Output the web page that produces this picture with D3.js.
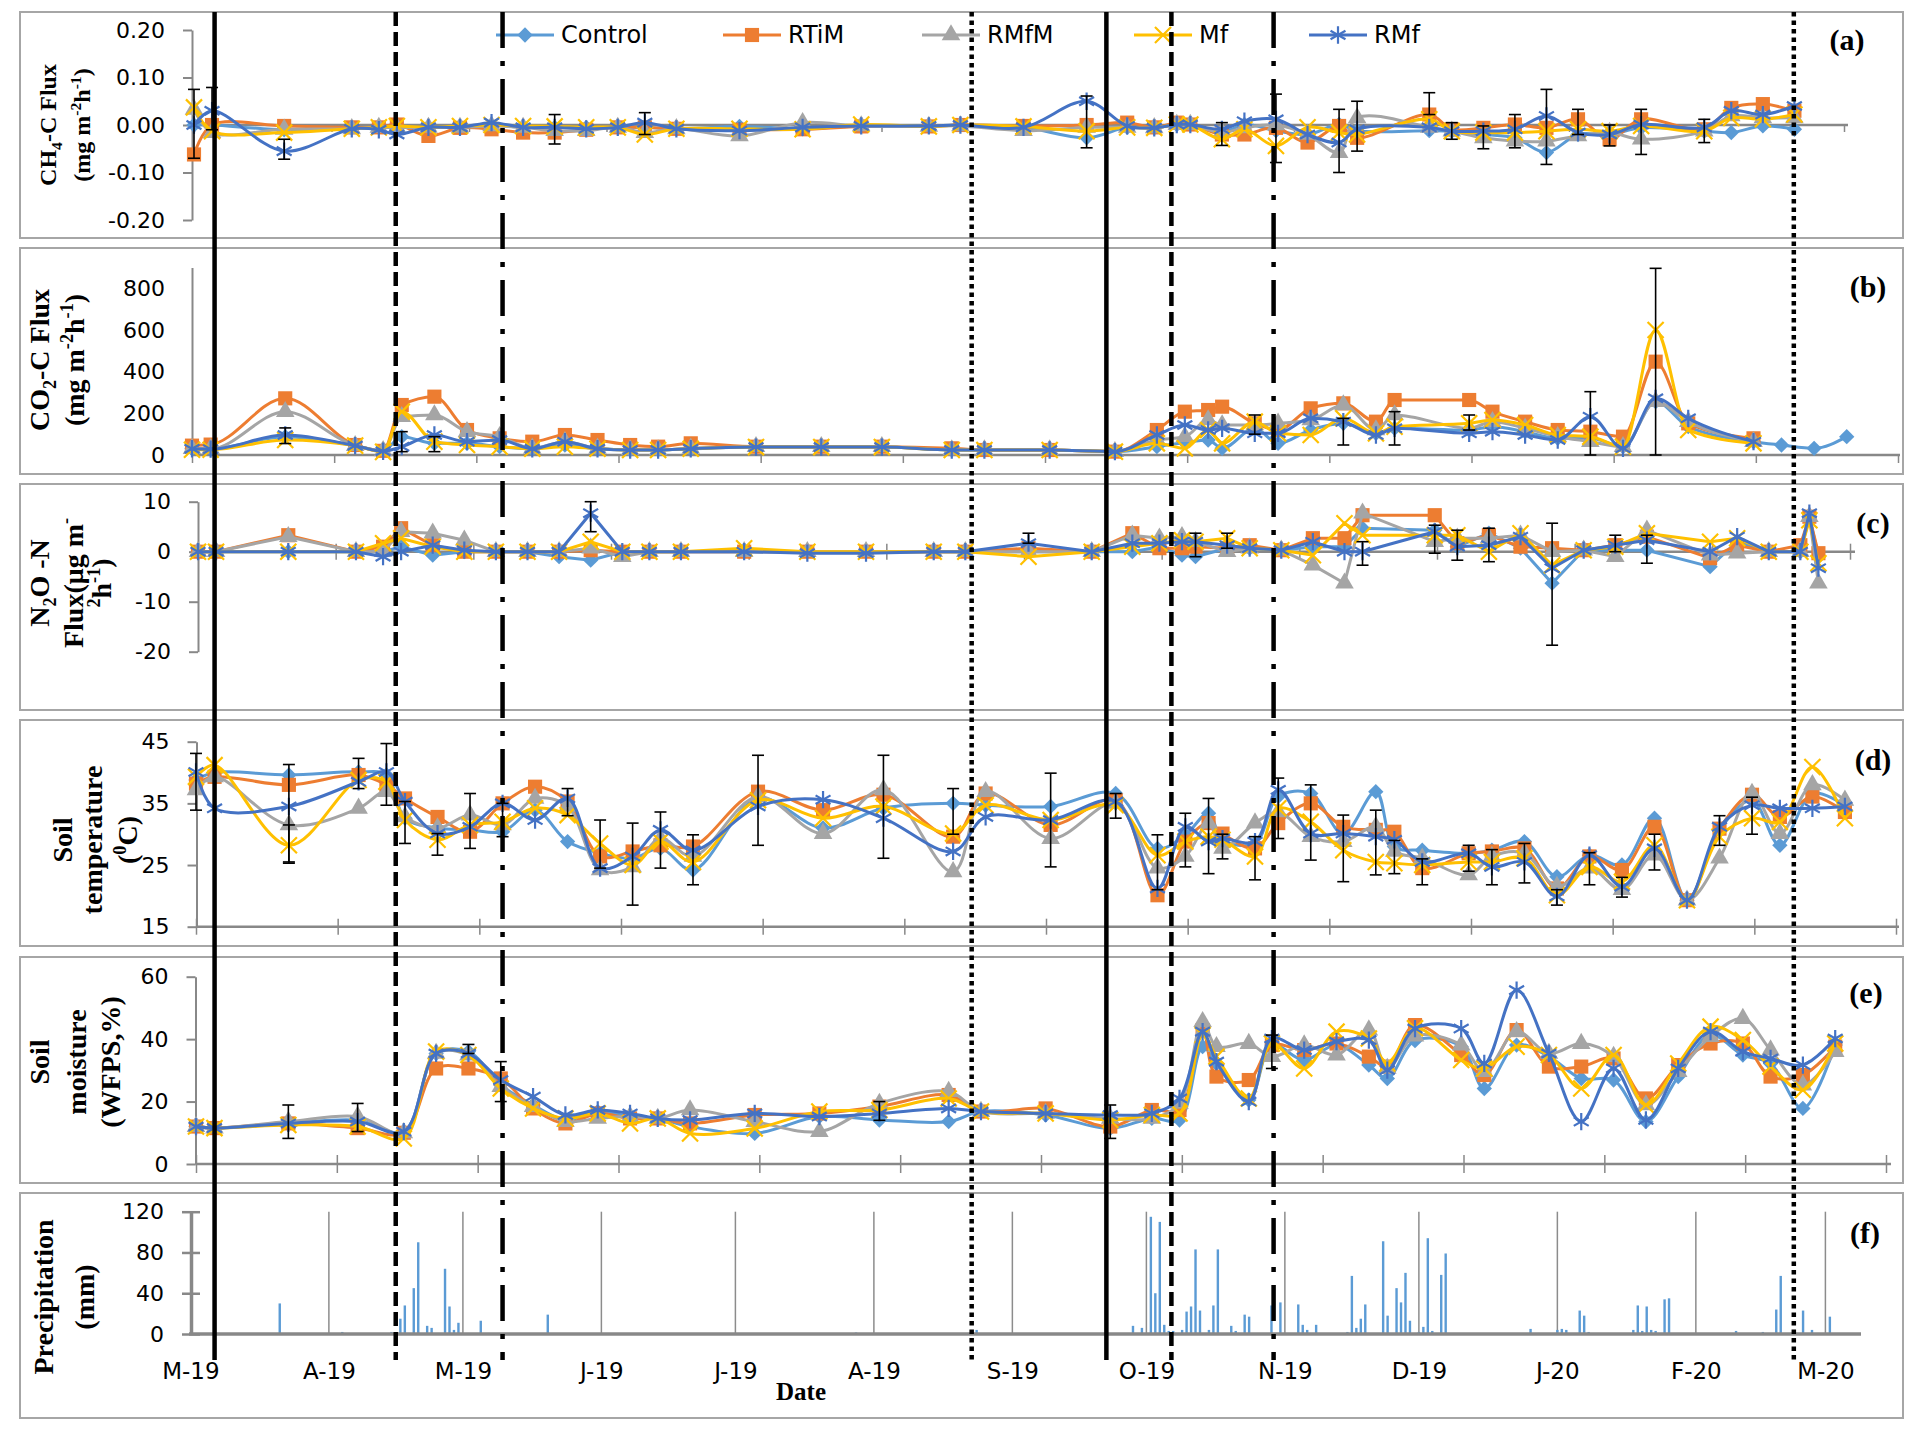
<!DOCTYPE html>
<html>
<head>
<meta charset="utf-8">
<script src="https://cdn.jsdelivr.net/npm/d3@7"></script>
<style>
  body { margin: 0; background: #fff; }
  svg { display: block; }
</style>
</head>
<body>
<script>
// sampling days shared by panels (a)-(e)
var sampleDates = [
  "2019-03-01","2019-03-05","2019-03-21","2019-04-05","2019-04-11","2019-04-15","2019-04-22","2019-04-29","2019-05-06","2019-05-13",
  "2019-05-20","2019-05-27","2019-06-03","2019-06-09","2019-06-16","2019-06-30","2019-07-14","2019-07-27","2019-08-11","2019-08-18",
  "2019-09-01","2019-09-15","2019-09-24","2019-09-30","2019-10-05","2019-10-08","2019-10-15","2019-10-20","2019-10-27","2019-11-03",
  "2019-11-10","2019-11-14","2019-11-20","2019-11-30","2019-12-05","2019-12-12","2019-12-19","2019-12-26","2020-01-02","2020-01-09",
  "2020-01-16","2020-01-23","2020-01-30","2020-02-05","2020-02-12","2020-02-19","2020-02-21","2020-02-23"]

var seriesNames = ["Control", "RTiM", "RMfM", "Mf", "RMf"]
var seriesColors = ["#5B9BD5", "#ED7D31", "#A5A5A5", "#FFC000", "#4472C4"]

// (a) CH4-C flux, mg m-2 h-1
var ch4Control = [0.000,0.000,-0.010,-0.006,-0.005,-0.005,-0.005,-0.005,0.000,-0.005,
  -0.005,-0.005,-0.005,-0.005,-0.008,-0.003,-0.008,-0.002,-0.002,0.000,
  -0.005,-0.027,-0.005,-0.006,0.001,0.001,-0.016,0.001,-0.012,-0.020,
  0.001,-0.012,null,-0.012,-0.013,-0.020,-0.027,-0.058,-0.020,-0.020,
  -0.006,null,-0.013,-0.016,-0.002,-0.009,null,null]
var ch4RTiM = [-0.062,0.000,-0.002,-0.005,-0.005,0.001,-0.023,-0.006,-0.009,-0.016,
  -0.016,-0.010,-0.005,-0.005,-0.008,-0.010,-0.009,-0.003,-0.003,0.000,
  -0.002,0.000,0.005,-0.005,0.005,0.001,-0.020,-0.020,-0.006,-0.037,
  -0.002,-0.027,null,0.022,-0.009,-0.006,0.001,-0.006,0.012,-0.030,
  0.012,null,-0.009,0.036,0.044,0.030,null,null]
var ch4RMfM = [0.033,-0.016,-0.009,-0.008,-0.005,-0.005,-0.005,-0.005,-0.002,-0.005,
  -0.012,-0.012,-0.005,-0.016,-0.008,-0.023,0.005,-0.002,-0.003,-0.002,
  -0.012,-0.005,-0.005,-0.006,0.001,0.001,-0.016,-0.006,0.000,-0.020,
  -0.058,0.015,null,-0.005,-0.013,-0.027,-0.034,-0.034,-0.023,-0.016,
  -0.030,null,-0.013,0.019,0.015,0.015,null,null]
var ch4Mf = [0.037,-0.013,-0.016,-0.008,-0.005,-0.002,-0.005,-0.002,0.000,-0.002,
  -0.003,-0.005,-0.005,-0.020,-0.008,-0.008,-0.009,0.001,-0.003,0.000,
  -0.003,-0.013,-0.005,-0.006,0.001,0.001,-0.030,-0.009,-0.044,-0.005,
  -0.016,-0.020,null,0.012,-0.013,-0.016,-0.016,-0.013,-0.009,-0.013,
  -0.002,null,-0.013,0.015,0.012,0.022,null,null]
var ch4RMf = [0.000,0.030,-0.055,-0.008,-0.010,-0.020,-0.005,-0.005,0.005,-0.005,
  -0.005,-0.008,-0.005,0.005,-0.008,-0.012,-0.005,-0.002,-0.002,0.000,
  -0.005,0.050,-0.002,-0.006,0.001,0.001,-0.009,0.008,0.012,-0.020,
  -0.037,-0.009,null,-0.005,-0.013,-0.013,-0.009,0.019,-0.016,-0.020,
  0.001,null,-0.005,0.030,0.022,0.040,null,null]
// error bars: [sample index, low, high]
var ch4Err = [[0,-0.07,0.075],[1,-0.01,0.079],[2,-0.072,-0.03],[10,-0.04,0.022],[13,-0.02,0.026],
  [21,-0.048,0.061],[26,-0.043,0.005],[28,-0.079,0.065],[30,-0.1,0.033],[31,-0.055,0.05],
  [33,0.022,0.068],[34,-0.03,0.005],[35,-0.05,-0.002],[36,-0.048,0.022],[37,-0.083,0.075],
  [38,-0.02,0.033],[39,-0.044,0],[40,-0.062,0.033],[42,-0.037,0.012]]

// (b) CO2-C flux, mg m-2 h-1
var co2Control = [30,30,88,45,20,88,56,56,40,30, 48,30,25,25,30,38,38,38,25,24,
  24,16,40,60,72,32,128,56,120,152, 104,128,null,120,136,112,80,80,40,256,
  136,null,64,48,32,88,null,null]
var co2RTiM = [45,50,272,48,20,240,280,120,80,64, 96,72,48,40,56,40,40,40,32,24,
  24,16,120,208,216,232,152,120,224,248, 160,264,null,264,208,160,120,112,88,448,
  152,null,80,null,null,null,null,null]
var co2RMfM = [30,30,208,45,20,184,192,112,88,32, 64,32,24,24,32,40,40,40,24,24,
  24,16,72,88,168,144,144,152,168,240, 120,192,null,128,160,128,88,64,40,256,
  160,null,64,null,null,null,null,null]
var co2Mf = [25,25,72,45,15,208,64,48,40,30, 40,30,24,24,30,38,38,38,24,24,
  24,16,56,32,120,56,160,104,96,176, 104,136,null,152,168,144,96,88,40,600,
  120,null,56,null,null,null,null,null]
var co2RMf = [30,28,96,45,18,40,96,64,72,30, 64,30,24,24,30,38,38,38,24,24,
  24,16,96,144,120,128,104,104,176,160, 96,128,null,104,112,96,72,184,32,272,
  176,null,64,null,null,null,null,null]
var co2Err = [[2,55,130],[5,16,112],[6,16,88],[26,100,192],[29,48,176],[31,48,208],[33,120,192],[37,0,304],[39,0,896]]

// (c) N2O-N flux, ug m-2 h-1
var n2oControl = [0,0,0,0,0,1,-0.7,0,0,0, -1,-1.7,0,0,0,0,0,0,0,0,
  0,0,0,1,-0.7,-1,0.7,0.7,0.3,1, 1,4.7,null,4.3,1,3.7,0.7,-6.3,0.3,0.3,
  0.3,null,-3,2,0,0,7,-1]
var n2oRTiM = [0,0,3.3,0,1,4.7,1.3,0,0,0, 0,0.3,0,0,0,0,0,0,0,0,
  0.7,0,3.7,0.7,0.7,1,0.7,1.3,0.3,2.7, 2.7,7.3,null,7.3,1.7,3.3,1,0.7,0.3,1.3,
  3,null,-1.3,1.3,0,1.3,7,-0.3]
var n2oRMfM = [0,0,3,0,0,4,3.7,2.3,0,0, 0,0.7,-1,0,0,0,0,0,0,0,
  0,0,3.3,2.7,3,2,0,0.7,0.3,-2.7, -6.3,7.7,null,2,2.7,2.7,3.3,0,0.3,-1,
  4.3,null,-0.7,-0.3,0,0,7,-6.3]
var n2oMf = [0,0,0,0,1.7,2.7,1,0,0,0, 0,2,0,0,0,0.7,0,0,0,0,
  -1,0,1,1.7,2.3,2,2.7,0.7,0.3,-0.7, 5.7,3.3,null,3.3,3.3,0,3.7,-2.7,0.3,1,
  3.7,null,2,2.7,0,0,6.3,-2.3]
var n2oRMf = [0,0,0,0,-1,0,1.3,0.3,0,0, 0,7.7,0,0,0,0,-0.3,-0.3,0,0,
  1.7,0,1.7,1.7,2,2,1.3,0.7,0.3,2, 0,0,null,4,1,1.3,3,-3.3,0.3,1.3,
  2.3,null,0,3,0,0,7.7,-3.3]
var n2oErr = [[11,4,10],[20,1.7,3.7],[25,-1,3.7],[26,0.7,3.7],[31,-2.7,2],[33,-0.3,5.3],
  [34,-1.7,4.3],[35,-2,4.7],[37,-18.7,5.7],[39,0,3.3],[40,-2.3,3.3]]

// (d) soil temperature, degC
var tempControl = [38.8,40,39.6,40.1,39.6,32.6,31,30.7,30.4,33.9, 28.8,26.9,26.1,27.7,24.2,35.8,31,34.2,35,34.7,
  34.5,36.6,27.7,29.9,33.4,29.1,28.5,36.1,36.6,30.1, 36.9,28,27.4,26.9,27.4,28.8,23.1,26.6,25,32.6,
  19.3,30.7,35.5,28.2,36.6,34.7,null,null]
var tempRTiM = [38.2,39.3,38,39.6,38,35.8,32.8,30.4,35,37.7, 35.3,26.4,27.2,28.2,28,36.9,33.9,36.4,29.6,36.6,
  31.5,35.5,20.1,28.8,31.8,30.1,27.7,31.8,35,31.2, 30.7,30.4,24.5,26.9,27.2,27.7,21.2,26.4,24.2,31.2,
  19.3,30.9,36.4,32.8,36.1,33.6,null,null]
var tempRMfM = [37.2,39.3,31.5,34.2,36.9,32.8,31,33.1,31.5,35.8, 34.5,24.2,24.7,29.3,26.4,36.1,30.1,37.2,23.9,36.9,
  29.3,35,24.5,26.4,31.8,27.7,31.8,33.6,29.6,28.8, 31.2,27.2,26.1,23.4,26.4,26.9,21.5,24.5,21,26.6,
  19.3,26.1,36.6,30.1,38,35.5,null,null]
var tempMf = [39.3,41.2,28.2,38.8,38.5,32.3,29.1,31.5,32,34.2, 33.1,28.5,25,28.8,25.5,35.5,32.6,34.5,30.1,34.7,
  32.3,34.7,26.6,28.8,29.6,29.1,26.4,34.2,32,27.4, 25.5,25.3,25,25.5,25.5,26.1,20.1,24.7,22.3,28.2,
  19.3,29.6,32.6,32,40.9,32.6,null,null]
var tempRMf = [40.1,34.2,34.5,38.5,40.1,35.3,30.1,31.2,35,32.3, 35.8,24.5,26.4,30.7,27.4,34.5,35.6,32.6,27.2,32.8,
  32.3,35.3,21.2,31.2,28.8,29.3,28.8,37.2,30.1,30.1, 29.6,29.1,25.5,26.9,24.7,25.5,19.9,26.6,21.5,27.7,
  19.3,31.2,34.7,34.2,34.2,34.5,null,null]
var tempErr = [[0,33.9,43.1],[2,25.5,41.3],[2,25.3,31.5],[3,37.4,42.3],[4,34.7,44.7],[5,28.5,35.3],[6,26.6,30.1],
  [7,27.7,36.6],[8,29.6,35],[10,33,37.4],[11,24.5,32.3],[12,18.5,31.8],[13,24.5,33.6],[14,21.8,29.9],
  [15,28.2,42.8],[17,26.1,42.8],[18,30,37.4],[20,24.7,39.9],[21,32.6,36.6],[22,21,29.9],[23,24.7,33.4],
  [24,23.6,35.8],[25,26,30],[26,22.6,29.6],[27,29.3,39.1],[28,25.8,38],[29,22.3,33.1],[30,23.4,33.9],
  [31,23.6,29],[32,21.8,26],[33,24,28.2],[34,21.8,27.5],[35,22.1,28.5],[36,18.5,21],[37,21.8,27],
  [38,19.8,23],[39,24.2,30],[41,28.2,33],[42,30,36]]

// (e) soil moisture, WFPS %
var moistControl = [12,11.5,13,14,null,10.4,35.4,36,25.3,18.9, 14.1,16.8,15.2,14.6,12,9.8,15.2,14.1,13.6,16.8,
  15.7,11.4,14.6,14.1,37.6,32.2,20.5,38.1,33.3,38.1, 31.7,27.4,39.5,37.6,24.2,38.1,34.4,27.4,26.9,13.6,
  28,41.3,34.9,32.2,17.8,38.1,null,null]
var moistRTiM = [12,11.5,13,11.5,null,10,30.6,30.6,27.4,17.8, 13,16.2,14.6,14.6,13,15.7,16.2,18.4,22.1,16.8,
  17.8,12,17.3,17.3,42.9,28,26.9,38.1,36.5,38.6, 34.4,31.2,44.5,34.9,28.5,42.9,31.2,31.2,33.8,21,
  31.7,38.6,38.6,28,28.5,37.6,null,null]
var moistRMfM = [12,11.5,13.6,15.2,null,10,35.4,34.9,24.8,18.4, 13.6,14.6,15.2,14.6,17.3,13.6,10.4,19.4,23.2,16.8,
  16.2,14.6,14.6,19.4,45.6,37.6,38.6,34.4,38.1,34.9, 42.9,30.6,41,38.1,29.6,42.4,35.4,38.6,34.4,18.9,
  29.6,40.8,46.6,36.5,25.3,36,null,null]
var moistMf = [12,11.5,12.5,12,null,8.2,36,34.9,24.2,17.8, 14.6,16.2,13,14.6,9.8,11.4,16.8,17.3,21,16.8,
  16.2,14.1,15.7,16.2,41.3,34.4,21,38.6,30.6,42.4, 40.2,32.2,43.5,33.3,30.6,37.6,34.9,24.2,34.9,18.9,
  32.2,44,39.7,31.2,23.7,38.6,null,null]
var moistRMf = [12,11.5,13,13.6,null,10.4,35.4,35.4,26.9,21.6, 15.7,17.3,16.2,14.6,14.1,16.2,15.2,16.2,17.8,16.8,
  16.2,15.7,16.2,21,42.4,32.8,20,40.2,36.5,39.2, 39.7,30.1,43.4,43.4,32.2,55.7,35.4,13.6,30.6,14.1,
  30.6,42.4,36,33.8,31.7,40.2,null,null]
var moistErr = [[2,8.2,18.9],[3,10.4,19.4],[7,35.4,38.3],[8,20,32.8],[17,14,20],[21,8.2,18.9],[27,30.6,41.3]]

// (f) daily precipitation, mm
var precipDates = ["2019-03-21","2019-04-04","2019-04-15","2019-04-17","2019-04-18","2019-04-20","2019-04-21","2019-04-23","2019-04-24","2019-04-27",
  "2019-04-28","2019-04-29","2019-04-30","2019-05-05","2019-05-20","2019-07-28","2019-08-24","2019-09-28","2019-09-29","2019-09-30",
  "2019-10-02","2019-10-03","2019-10-04","2019-10-05","2019-10-06","2019-10-07","2019-10-09","2019-10-10","2019-10-11","2019-10-12",
  "2019-10-13","2019-10-15","2019-10-16","2019-10-17","2019-10-20","2019-10-21","2019-10-23","2019-10-24","2019-10-29","2019-10-31",
  "2019-11-04","2019-11-05","2019-11-06","2019-11-08","2019-11-15","2019-11-16","2019-11-17","2019-11-18","2019-11-19","2019-11-23",
  "2019-11-24","2019-11-26","2019-11-27","2019-11-28","2019-11-29","2019-12-01","2019-12-02","2019-12-03","2019-12-04","2019-12-06",
  "2019-12-07","2019-12-26","2020-01-01","2020-01-02","2020-01-03","2020-01-06","2020-01-07","2020-01-08","2020-01-18","2020-01-19",
  "2020-01-20","2020-01-21","2020-01-22","2020-01-23","2020-01-25","2020-01-26","2020-02-10","2020-02-16","2020-02-19","2020-02-20",
  "2020-02-25","2020-02-27","2020-03-02"]
var precipMm = [30,2,2,15,28,45,90,8,6,64, 27,4,11,13,19,1.5,4,8,1,6,
  115,40,110,9,3,3,4,22,27,83, 23,4,28,83,8,3,19,17,28,31,
  29,9,4,9,2,57,6,15,29,91, 18,45,31,60,13,2,7,94,3,58,
  79,5,4,5,4,23,18,2,4,28, 3,27,4,3,34,35,3,2,24,57,
  23,4,17]

var ch4Ticks = [-0.2, -0.1, 0, 0.1, 0.2]
var co2Ticks = [0, 200, 400, 600, 800]
var n2oTicks = [-20, -10, 0, 10]
var tempTicks = [15, 25, 35, 45]
var moistTicks = [0, 20, 40, 60]
var precipTicks = [0, 40, 80, 120]
var monthLabels = ["M-19","A-19","M-19","J-19","J-19","A-19","S-19","O-19","N-19","D-19","J-20","F-20","M-20"]

// management events drawn across all panels
var eventDates = ["2019-03-05","2019-04-13","2019-05-06","2019-08-15","2019-09-13","2019-09-27","2019-10-19","2020-02-08"]
var eventStyles = ["solid","dashed","dashdot","dotted","solid","dashed","dashdot","dotted"]

var W = 1921, H = 1433
var parse = d3.timeParse("%Y-%m-%d")
var tStart = parse("2019-03-01"), tEnd = parse("2020-03-01")
var dates = sampleDates.map(parse)

var axisGray = "#888888"
var boxGray = "#a6a6a6"
var sansFont = "'DejaVu Sans', Verdana, sans-serif"
var serifFont = "'Liberation Serif', 'Times New Roman', serif"

var symbols = [d3.symbolDiamond2, d3.symbolSquare, d3.symbolTriangle, d3.symbolTimes, d3.symbolAsterisk]
var symSize = [150, 200, 150, 170, 210]
var filled = [true, true, true, false, false]

var svg = d3.select("body").append("svg").attr("width", W).attr("height", H)
svg.append("rect").attr("width", W).attr("height", H).attr("fill", "#fff")

// 12 equal steps along each panel's own date axis
var panelTicks = d3.range(13).map(function (k) { return new Date(+tStart + k * (tEnd - tStart) / 12) })

function richText (g, x, y, parts, size) {
  var t = g.append("text")
    .attr("transform", "translate(" + x + "," + y + ") rotate(-90)")
    .attr("text-anchor", "middle")
    .attr("font-family", serifFont)
    .attr("font-weight", "bold")
    .attr("font-size", size)
    .attr("fill", "#000")
  var shift = 0
  parts.forEach(function (p) {
    var target = p[1] === "sub" ? size * 0.25 : (p[1] === "sup" ? -size * 0.38 : 0)
    t.append("tspan")
      .attr("dy", target - shift)
      .attr("font-size", p[1] === "n" ? size : size * 0.65)
      .text(p[0])
    shift = target
  })
}

function marker (sel, s) {
  return sel
    .attr("d", d3.symbol(symbols[s], symSize[s]))
    .attr("fill", filled[s] ? seriesColors[s] : "none")
    .attr("stroke", seriesColors[s])
    .attr("stroke-width", filled[s] ? 0 : 2.2)
}

var unitParts = [["(mg m", "n"], ["-2", "sup"], ["h", "n"], ["-1", "sup"], [")", "n"]]

var panels = [
  { id: "(a)", top: 12, series: [ch4Control, ch4RTiM, ch4RMfM, ch4Mf, ch4RMf], err: ch4Err,
    axisX: 192, x0: 194, x12: 1844, xEnd: 1848, domain: [-0.2, 0.2], yRange: [220, 30], ticks: ch4Ticks,
    fmt: function (d) { return d.toFixed(2) }, base: 0, yTick: 9, xTick: [0, 7], curve: d3.curveCatmullRom.alpha(0.5),
    labelX: 1847, labelY: 50,
    title: [[["CH", "n"], ["4", "sub"], ["-C Flux", "n"]], unitParts], titleX: [56, 90], titleY: 125, titleSize: 24 },
  { id: "(b)", top: 248, series: [co2Control, co2RTiM, co2RMfM, co2Mf, co2RMf], err: co2Err,
    axisX: 192, x0: 192, x12: 1898, xEnd: 1900, domain: [0, 900], yRange: [455, 267.5], ticks: co2Ticks,
    fmt: function (d) { return String(d) }, base: 0, yTick: 0, xTick: [0, 8], curve: d3.curveMonotoneX,
    labelX: 1868, labelY: 297,
    title: [[["CO", "n"], ["2", "sub"], ["-C Flux", "n"]], unitParts], titleX: [49, 84], titleY: 360, titleSize: 28 },
  { id: "(c)", top: 484, series: [n2oControl, n2oRTiM, n2oRMfM, n2oMf, n2oRMf], err: n2oErr,
    axisX: 198, x0: 198, x12: 1850, xEnd: 1855, domain: [-20, 10], yRange: [651.7, 501.7], ticks: n2oTicks,
    fmt: function (d) { return String(d) }, base: 0, yTick: 9, xTick: [-8, 8], curve: d3.curveLinear,
    labelX: 1873, labelY: 533,
    title: [[["N", "n"], ["2", "sub"], ["O -N", "n"]], [["Flux(\u03bcg m", "n"], ["-", "sup"]], [["2", "sup"], ["h", "n"], ["-1", "sup"], [")", "n"]]],
    titleX: [49, 83, 111], titleY: 583, titleSize: 28 },
  { id: "(d)", top: 720, series: [tempControl, tempRTiM, tempRMfM, tempMf, tempRMf], err: tempErr,
    axisX: 196.5, x0: 196, x12: 1896, xEnd: 1899, domain: [15, 45], yRange: [926.7, 741.7], ticks: tempTicks,
    fmt: function (d) { return String(d) }, base: 15, yTick: 9, xTick: [-8, 8], curve: d3.curveCatmullRom.alpha(0.5),
    labelX: 1873, labelY: 770,
    title: [[["Soil", "n"]], [["temperature", "n"]], [["(", "n"], ["0", "sup"], ["C)", "n"]]],
    titleX: [72, 102, 137], titleY: 840, titleSize: 28 },
  { id: "(e)", top: 957, series: [moistControl, moistRTiM, moistRMfM, moistMf, moistRMf], err: moistErr,
    axisX: 195.5, x0: 196, x12: 1886, xEnd: 1891, domain: [0, 60], yRange: [1164, 976.7], ticks: moistTicks,
    fmt: function (d) { return String(d) }, base: 0, yTick: 9, xTick: [-9, 9], curve: d3.curveCatmullRom.alpha(0.5),
    labelX: 1866, labelY: 1003,
    title: [[["Soil", "n"]], [["moisture", "n"]], [["(WFPS,%)", "n"]]],
    titleX: [49, 86, 120], titleY: 1062, titleSize: 28 }
]

function drawPanel (p) {
  var g = svg.append("g")
  g.append("rect")
    .attr("x", 20).attr("y", p.top).attr("width", 1883).attr("height", 226)
    .attr("fill", "none").attr("stroke", boxGray).attr("stroke-width", 2)

  var x = d3.scaleTime().domain([tStart, tEnd]).range([p.x0, p.x12])
  var y = d3.scaleLinear().domain(p.domain).range(p.yRange)

  var ya = g.append("g")
    .attr("transform", "translate(" + p.axisX + ",0)")
    .call(d3.axisLeft(y).tickValues(p.ticks).tickSize(p.yTick).tickSizeOuter(0)
      .tickPadding(27 - p.yTick).tickFormat(p.fmt))
  ya.select(".domain").attr("stroke", axisGray).attr("stroke-width", 2)
  ya.selectAll(".tick line").attr("stroke", axisGray).attr("stroke-width", 2)
  ya.selectAll(".tick text")
    .attr("font-family", sansFont).attr("font-size", 22).attr("fill", "#000")

  var yb = y(p.base)
  var xa = g.append("g")
    .attr("transform", "translate(0," + yb + ")")
    .call(d3.axisBottom(x).tickValues(panelTicks).tickFormat(""))
  xa.select(".domain").remove()
  xa.selectAll(".tick line")
    .attr("y1", p.xTick[0]).attr("y2", p.xTick[1])
    .attr("stroke", axisGray).attr("stroke-width", 1.5)
  g.append("line")
    .attr("x1", p.axisX).attr("x2", p.xEnd).attr("y1", yb).attr("y2", yb)
    .attr("stroke", axisGray).attr("stroke-width", 2.5)

  var line = d3.line()
    .x(function (d) { return x(d.date) })
    .y(function (d) { return y(d.v) })
    .curve(p.curve)

  p.series.forEach(function (vals, s) {
    var pts = vals.map(function (v, i) { return { date: dates[i], v: v } })
      .filter(function (d) { return d.v !== null })
    g.append("path").datum(pts)
      .attr("d", line)
      .attr("fill", "none")
      .attr("stroke", seriesColors[s])
      .attr("stroke-width", 3)
    g.selectAll(null).data(pts).enter().append("path")
      .attr("transform", function (d) { return "translate(" + x(d.date) + "," + y(d.v) + ")" })
      .call(marker, s)
  })

  // error bars
  var eb = g.append("g").attr("stroke", "#000").attr("stroke-width", 1.6)
  p.err.forEach(function (e) {
    var xx = x(dates[e[0]])
    eb.append("line").attr("x1", xx).attr("x2", xx).attr("y1", y(e[1])).attr("y2", y(e[2]))
    eb.append("line").attr("x1", xx - 6).attr("x2", xx + 6).attr("y1", y(e[1])).attr("y2", y(e[1]))
    eb.append("line").attr("x1", xx - 6).attr("x2", xx + 6).attr("y1", y(e[2])).attr("y2", y(e[2]))
  })

  g.append("text")
    .attr("x", p.labelX).attr("y", p.labelY)
    .attr("text-anchor", "middle")
    .attr("font-family", serifFont).attr("font-weight", "bold").attr("font-size", 30)
    .text(p.id)

  p.title.forEach(function (parts, k) {
    richText(g, p.titleX[k], p.titleY, parts, p.titleSize)
  })
}

panels.forEach(drawPanel)

// (f) precipitation
var gf = svg.append("g")
gf.append("rect")
  .attr("x", 20).attr("y", 1193).attr("width", 1883).attr("height", 225)
  .attr("fill", "none").attr("stroke", boxGray).attr("stroke-width", 2)

var xf = d3.scaleTime().domain([tStart, tEnd]).range([190.4, 1825.4])
var yf = d3.scaleLinear().domain([0, 120]).range([1334, 1211.7])
var months = d3.timeMonth.range(tStart, d3.timeDay.offset(tEnd, 1))

gf.selectAll(".grid").data(months.slice(1)).enter().append("line")
  .attr("x1", function (d) { return xf(d) }).attr("x2", function (d) { return xf(d) })
  .attr("y1", yf(0)).attr("y2", yf(120))
  .attr("stroke", "#8c8c8c").attr("stroke-width", 1.5)

gf.selectAll(".bar").data(precipDates).enter().append("rect")
  .attr("x", function (d) { return xf(parse(d)) - 1.2 })
  .attr("width", 2.4)
  .attr("y", function (d, i) { return yf(precipMm[i]) })
  .attr("height", function (d, i) { return yf(0) - yf(precipMm[i]) })
  .attr("fill", "#5B9BD5")

var yfa = gf.append("g")
  .attr("transform", "translate(191,0)")
  .call(d3.axisLeft(yf).tickValues(precipTicks).tickSize(9).tickSizeOuter(0).tickPadding(18)
    .tickFormat(function (d) { return String(d) }))
yfa.select(".domain").attr("stroke", axisGray).attr("stroke-width", 3.5)
yfa.selectAll(".tick line").attr("x1", 9).attr("stroke", axisGray).attr("stroke-width", 2.5)
yfa.selectAll(".tick text").attr("font-family", sansFont).attr("font-size", 22).attr("fill", "#000")

gf.append("line")
  .attr("x1", 189).attr("x2", 1861).attr("y1", yf(0)).attr("y2", yf(0))
  .attr("stroke", axisGray).attr("stroke-width", 3.5)

var xfa = gf.append("g")
  .attr("transform", "translate(0," + yf(0) + ")")
  .call(d3.axisBottom(xf).tickValues(months).tickSize(0).tickPadding(29)
    .tickFormat(function (d, i) { return monthLabels[i] }))
xfa.select(".domain").remove()
xfa.selectAll(".tick text").attr("font-family", sansFont).attr("font-size", 23).attr("fill", "#000")

gf.append("text")
  .attr("x", 801).attr("y", 1400)
  .attr("text-anchor", "middle")
  .attr("font-family", serifFont).attr("font-weight", "bold").attr("font-size", 25)
  .text("Date")

gf.append("text")
  .attr("x", 1865).attr("y", 1243)
  .attr("text-anchor", "middle")
  .attr("font-family", serifFont).attr("font-weight", "bold").attr("font-size", 30)
  .text("(f)")

richText(gf, 53, 1297, [["Precipitation", "n"]], 28)
richText(gf, 94, 1297, [["(mm)", "n"]], 28)

// legend across the top of (a)
var legendX = [525, 752, 951, 1163, 1338]
var lg = svg.append("g")
seriesNames.forEach(function (name, s) {
  var cx = legendX[s]
  lg.append("line")
    .attr("x1", cx - 29).attr("x2", cx + 29).attr("y1", 35).attr("y2", 35)
    .attr("stroke", seriesColors[s]).attr("stroke-width", 3)
  lg.append("path")
    .attr("transform", "translate(" + cx + ",35)")
    .call(marker, s)
  lg.append("text")
    .attr("x", cx + 36).attr("y", 35).attr("dy", "0.35em")
    .attr("font-family", sansFont).attr("font-size", 24).attr("fill", "#000")
    .text(name)
})

// event lines, positioned on panel (d)'s date axis
var xd = d3.scaleTime().domain([tStart, tEnd]).range([196, 1896])
var dashes = { solid: null, dashed: "14,6", dashdot: "36,13,5,13", dotted: "4.5,4" }
svg.append("g").selectAll("line").data(eventDates).enter().append("line")
  .attr("x1", function (d) { return xd(parse(d)) })
  .attr("x2", function (d) { return xd(parse(d)) })
  .attr("y1", 12).attr("y2", 1360)
  .attr("stroke", "#000").attr("stroke-width", 4.5)
  .attr("stroke-dasharray", function (d, i) { return dashes[eventStyles[i]] })
</script>
</body>
</html>
